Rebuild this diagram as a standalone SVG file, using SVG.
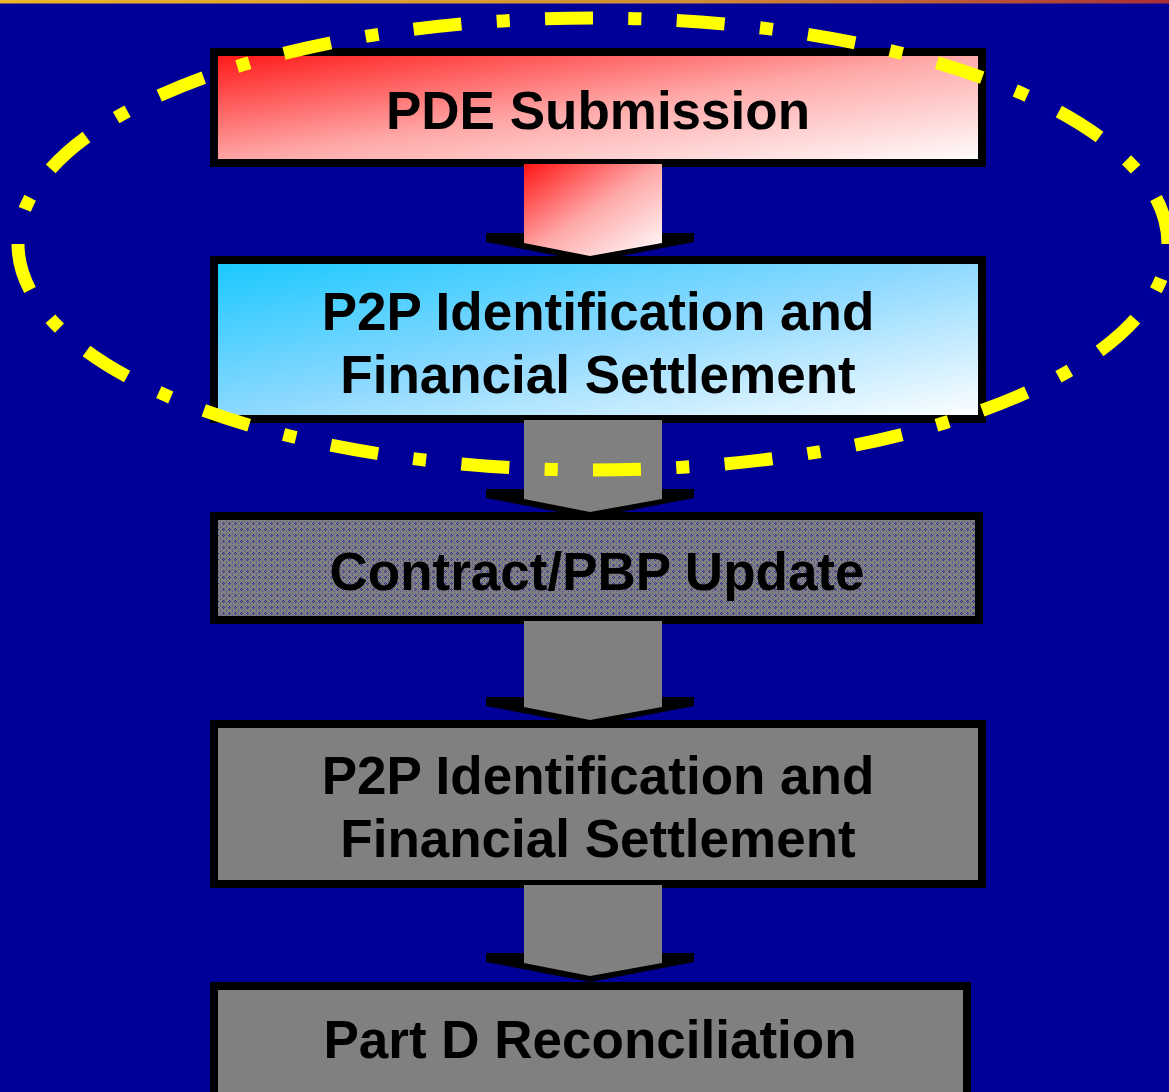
<svg xmlns="http://www.w3.org/2000/svg" width="1169" height="1092" viewBox="0 0 1169 1092">
  <defs>
    <linearGradient id="topBar" x1="0" y1="0" x2="1" y2="0">
      <stop offset="0" stop-color="#f0b428"/>
      <stop offset="0.6" stop-color="#d08a38"/>
      <stop offset="1" stop-color="#a83038"/>
    </linearGradient>
    <linearGradient id="redFade" x1="0" y1="0" x2="1" y2="1">
      <stop offset="0" stop-color="#ff1414"/>
      <stop offset="0.5" stop-color="#ffa8a8"/>
      <stop offset="1" stop-color="#ffffff"/>
    </linearGradient>
    <linearGradient id="cyanFade" x1="0" y1="0" x2="1" y2="1">
      <stop offset="0" stop-color="#18c8ff"/>
      <stop offset="0.5" stop-color="#8ed9ff"/>
      <stop offset="1" stop-color="#ffffff"/>
    </linearGradient>
    <pattern id="dotted" width="6" height="6" patternUnits="userSpaceOnUse">
      <rect width="6" height="6" fill="#808080"/>
      <rect x="1" y="0" width="1" height="1" fill="#2a2a98"/>
      <rect x="0" y="1" width="1" height="1" fill="#2a2a98"/>
      <rect x="2" y="1" width="1" height="1" fill="#2a2a98"/>
      <rect x="1" y="2" width="1" height="1" fill="#2a2a98"/>
      <rect x="4" y="3" width="1" height="1" fill="#4a4a9a"/>
      <rect x="4" y="5" width="1" height="1" fill="#4a4a9a"/>
    </pattern>
    <style>
      .box { stroke: #000000; stroke-width: 8; }
      .label { font-family: "Liberation Sans", Arial, sans-serif; font-weight: bold; font-size: 53px; fill: #000000; text-anchor: middle; }
      .wing { fill: #000000; }
      .shaft { fill: #808080; }
      .halo { fill: none; stroke: #ffff00; stroke-width: 13; stroke-dasharray: 48 35.42 13 35.43; stroke-dashoffset: 48; }
    </style>
  </defs>

  <!-- background and top rule -->
  <rect width="1169" height="1092" fill="#000099"/>
  <rect x="0" y="0" width="1169" height="3.5" fill="url(#topBar)"/>

  <g id="pde-submission">
    <rect class="box" x="214" y="52" width="768" height="111" fill="url(#redFade)"/>
    <text class="label" x="598" y="129">PDE Submission</text>
  </g>

  <g id="p2p-settlement-1">
    <rect class="box" x="214" y="260" width="768" height="159" fill="url(#cyanFade)"/>
    <text class="label" x="598" y="330">P2P Identification and</text>
    <text class="label" x="598" y="393">Financial Settlement</text>
  </g>

  <g id="contract-pbp-update">
    <rect class="box" x="214" y="516" width="765" height="104" fill="url(#dotted)"/>
    <text class="label" x="597" y="590">Contract/PBP Update</text>
  </g>

  <g id="p2p-settlement-2">
    <rect class="box" x="214" y="724" width="768" height="160" fill="#808080"/>
    <text class="label" x="598" y="794">P2P Identification and</text>
    <text class="label" x="598" y="857">Financial Settlement</text>
  </g>

  <g id="part-d-reconciliation">
    <rect class="box" x="214" y="986" width="753" height="120" fill="#808080"/>
    <text class="label" x="590" y="1058">Part D Reconciliation</text>
  </g>

  <!-- block arrows between the steps -->
  <g id="connectors">
    <g id="arrow-1">
      <polygon class="wing" points="486,233 694,233 694,242 590,262 486,242"/>
      <polygon points="524,164 662,164 662,243 590,256 524,243" fill="url(#redFade)"/>
    </g>
    <g id="arrow-2">
      <polygon class="wing" points="486,489 694,489 694,498 590,518 486,498"/>
      <polygon class="shaft" points="524,420 662,420 662,499 590,512 524,499"/>
    </g>
    <g id="arrow-3">
      <polygon class="wing" points="486,697 694,697 694,706 590,726 486,706"/>
      <polygon class="shaft" points="524,621 662,621 662,707 590,720 524,707"/>
    </g>
    <g id="arrow-4">
      <polygon class="wing" points="486,953 694,953 694,962 590,982 486,962"/>
      <polygon class="shaft" points="524,885 662,885 662,963 590,976 524,963"/>
    </g>
  </g>

  <!-- dash-dot ring around the first two steps -->
  <g id="highlight-ring">
    <path class="halo" d="M 18,244 A 575 226 0 1 1 1168,244 A 575 226 0 1 1 18,244 Z"/>
  </g>
</svg>
